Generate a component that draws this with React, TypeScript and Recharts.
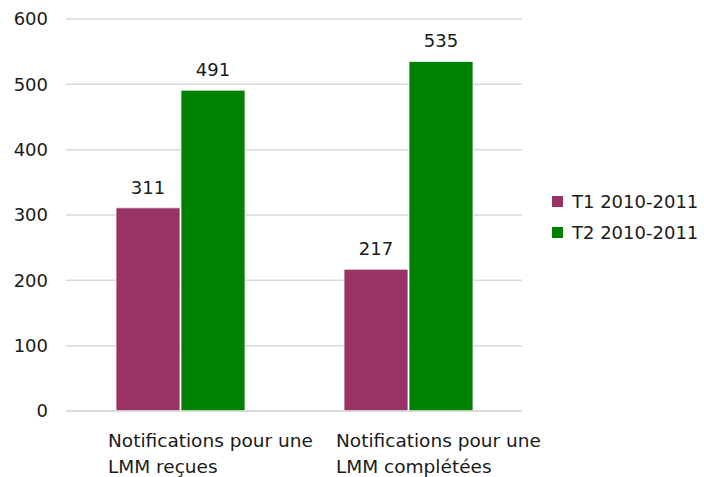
import { Bar, BarChart, CartesianGrid, LabelList, XAxis, YAxis } from "recharts";

const categories = ["Notifications pour une\nLMM reçues", "Notifications pour une\nLMM complétées"];
const t1Values = [311, 217];
const t2Values = [491, 535];
const yTicks = [0, 100, 200, 300, 400, 500, 600];
const seriesNames = ["T1 2010-2011", "T2 2010-2011"];
const seriesColors = ["#993366", "#008000"];

const data = categories.map((label, i) => ({ label, t1: t1Values[i], t2: t2Values[i] }));

const FONT = "'DejaVu Sans', Verdana, sans-serif";

function CategoryTick({ x, y, payload }: { x?: number; y?: number; payload?: { value: string } }) {
  const lines = String(payload?.value ?? "").split("\n");
  return (
    <text x={(x ?? 0) - 72} y={(y ?? 0) + 28} textAnchor="start" fontSize={18.5} fontFamily={FONT} fill="#1a1a1a">
      {lines.map((l, i) => (
        <tspan key={i} x={(x ?? 0) - 72} dy={i === 0 ? 0 : 26}>
          {l}
        </tspan>
      ))}
    </text>
  );
}

function ChartLegend() {
  return (
    <div style={{ position: "absolute", left: 552, top: 186, fontFamily: FONT, fontSize: 18, color: "#1a1a1a" }}>
      {seriesNames.map((n, i) => (
        <div key={n} style={{ display: "flex", alignItems: "center", height: 31 }}>
          <span style={{ width: 11, height: 11, background: seriesColors[i], marginRight: 9, display: "inline-block" }} />
          {n}
        </div>
      ))}
    </div>
  );
}

export default function App() {
  return (
    <div style={{ position: "absolute", left: 0, top: 0, width: 704, height: 477, background: "#fff" }}>
      <BarChart
        width={704}
        height={477}
        data={data}
        margin={{ top: 19, right: 182, left: 0, bottom: 0 }}
        barGap={1}
      >
        <CartesianGrid vertical={false} stroke="#d9d9d9" strokeWidth={1.5} />
        <XAxis
          dataKey="label"
          height={66}
          interval={0}
          tickLine={false}
          axisLine={{ stroke: "#d9d9d9", strokeWidth: 1.5 }}
          tick={<CategoryTick />}
        />
        <YAxis
          domain={[0, 600]}
          ticks={yTicks}
          width={66}
          tickLine={false}
          axisLine={false}
          tickMargin={12}
          tick={{ fontSize: 18, fontFamily: FONT, fill: "#1a1a1a" }}
        />
        <Bar dataKey="t1" name={seriesNames[0]} fill={seriesColors[0]} barSize={64} stroke="#ffffff" strokeWidth={0.75} isAnimationActive={false}>
          <LabelList dataKey="t1" position="top" offset={14} style={{ fontSize: 18, fontFamily: FONT, fill: "#1a1a1a" }} />
        </Bar>
        <Bar dataKey="t2" name={seriesNames[1]} fill={seriesColors[1]} barSize={64} stroke="#ffffff" strokeWidth={0.75} isAnimationActive={false}>
          <LabelList dataKey="t2" position="top" offset={14} style={{ fontSize: 18, fontFamily: FONT, fill: "#1a1a1a" }} />
        </Bar>
      </BarChart>
      <ChartLegend />
    </div>
  );
}
